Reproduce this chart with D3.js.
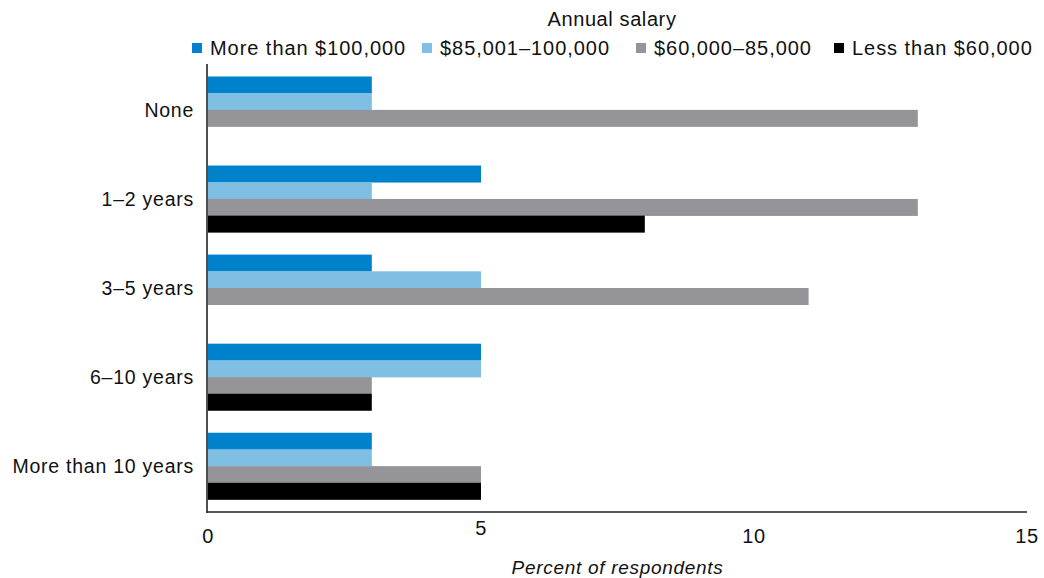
<!DOCTYPE html>
<html>
<head>
<meta charset="utf-8">
<script src="https://cdn.jsdelivr.net/npm/d3@7"></script>
<style>
  html, body { margin: 0; padding: 0; background: #fff; }
  svg { display: block; }
  text { font-family: "Liberation Sans", Arial, sans-serif; fill: #111; }
</style>
</head>
<body>
<svg id="chart" width="1044" height="578"></svg>
<script>
const categories = ["None", "1–2 years", "3–5 years", "6–10 years", "More than 10 years"];
const seriesNames = ["More than $100,000", "$85,001–100,000", "$60,000–85,000", "Less than $60,000"];
const seriesColors = ["#0081cb", "#80bfe4", "#959599", "#000000"];
const moreThan100k = [3, 5, 3, 5, 3];
const from85to100k = [3, 3, 5, 5, 3];
const from60to85k  = [13, 13, 11, 3, 5];
const lessThan60k  = [0, 8, 0, 3, 5];
const seriesValues = [moreThan100k, from85to100k, from60to85k, lessThan60k];
const xTicks = [0, 5, 10, 15];
const legendTitle = "Annual salary";
const xAxisTitle = "Percent of respondents";

const svg = d3.select("#chart");
const plotLeft = 208, plotRight = 1027, plotTop = 64, plotBottom = 512;

const x = d3.scaleLinear().domain([0, 15]).range([plotLeft, plotRight]);
const y = d3.scaleBand().domain(categories).range([plotTop, plotBottom]).paddingInner(0.25).paddingOuter(0.14);
const ySub = d3.scaleBand().domain(d3.range(seriesNames.length)).range([0, y.bandwidth()]);

// bars
const rows = [];
categories.forEach((c, i) => {
  seriesValues.forEach((vals, s) => rows.push({ cat: c, s, v: vals[i] }));
});
svg.append("g").selectAll("rect").data(rows.filter(d => d.v > 0)).join("rect")
  .attr("x", x(0))
  .attr("y", d => y(d.cat) + ySub(d.s))
  .attr("width", d => x(d.v) - x(0))
  .attr("height", ySub.bandwidth() + 0.3)
  .attr("fill", d => seriesColors[d.s]);

// axes lines
svg.append("line").attr("x1", plotLeft - 1).attr("x2", plotLeft - 1).attr("y1", plotTop).attr("y2", plotBottom + 1)
  .attr("stroke", "#222").attr("stroke-width", 1.6);
svg.append("line").attr("x1", plotLeft - 1).attr("x2", plotRight).attr("y1", plotBottom).attr("y2", plotBottom)
  .attr("stroke", "#222").attr("stroke-width", 1.6);

// category labels
svg.append("g").selectAll("text").data(categories).join("text")
  .attr("x", 194)
  .attr("y", d => y(d) + y.bandwidth() / 2 + 0.5)
  .attr("dy", "0.35em")
  .attr("text-anchor", "end")
  .style("font-size", "19.5px")
  .style("letter-spacing", "0.75px")
  .text(d => d);

// x tick labels
svg.append("g").selectAll("text").data(xTicks).join("text")
  .attr("x", d => x(d))
  .attr("y", d => d === 5 ? 535 : 543)
  .attr("text-anchor", "middle")
  .style("font-size", "20px")
  .style("letter-spacing", "0.6px")
  .text(d => d);

// x axis title
svg.append("text")
  .attr("x", (plotLeft + plotRight) / 2)
  .attr("y", 574)
  .attr("text-anchor", "middle")
  .style("font-size", "19px")
  .style("font-style", "italic")
  .style("letter-spacing", "0.7px")
  .text(xAxisTitle);

// legend title
svg.append("text")
  .attr("x", 612)
  .attr("y", 26)
  .attr("text-anchor", "middle")
  .style("font-size", "20px")
  .style("letter-spacing", "0.6px")
  .text(legendTitle);

// legend (item start positions are layout)
const legendX = [192, 422, 636, 834];
const lg = svg.append("g");
seriesNames.forEach((name, i) => {
  const lx = legendX[i];
  lg.append("rect").attr("x", lx).attr("y", 43).attr("width", 10).attr("height", 10).attr("fill", seriesColors[i]);
  lg.append("text").attr("x", lx + 18).attr("y", 55)
    .style("font-size", "20px")
    .style("letter-spacing", "0.95px")
    .text(name);
});
</script>
</body>
</html>
